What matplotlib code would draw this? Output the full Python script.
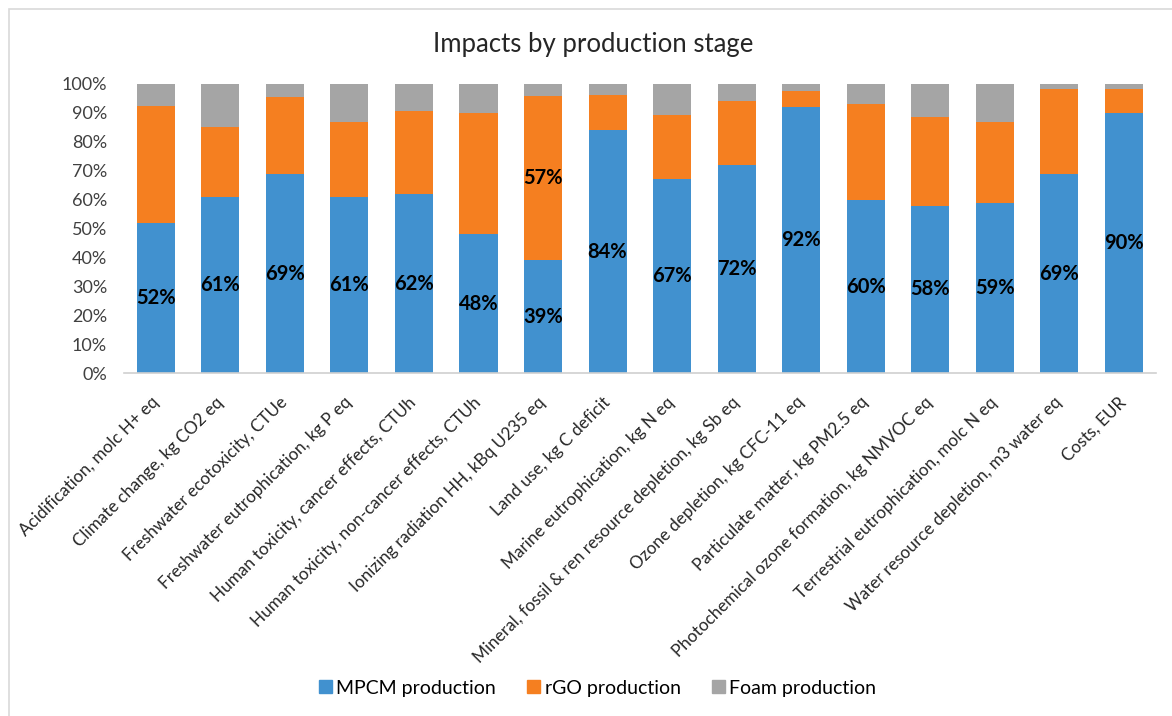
import matplotlib.pyplot as plt
import matplotlib.patches as mpatches
import numpy as np

plt.rcParams['font.family'] = ['Lato', 'DejaVu Sans']

# Impact categories (x axis)
categories = [
    'Acidification, molc H+ eq',
    'Climate change, kg CO2 eq',
    'Freshwater ecotoxicity, CTUe',
    'Freshwater eutrophication, kg P eq',
    'Human toxicity, cancer effects, CTUh',
    'Human toxicity, non-cancer effects, CTUh',
    'Ionizing radiation HH, kBq U235 eq',
    'Land use, kg C deficit',
    'Marine eutrophication, kg N eq',
    'Mineral, fossil & ren resource depletion, kg Sb eq',
    'Ozone depletion, kg CFC-11 eq',
    'Particulate matter, kg PM2.5 eq',
    'Photochemical ozone formation, kg NMVOC eq',
    'Terrestrial eutrophication, molc N eq',
    'Water resource depletion, m3 water eq',
    'Costs, EUR',
]

# Share of each production stage (%)
mpcm = [52, 61, 69, 61, 62, 48, 39, 84, 67, 72, 92, 60, 58, 59, 69, 90]
rgo = [40.5, 24.0, 26.5, 25.9, 28.6, 42.1, 57, 12.3, 22.3, 22.2, 5.6, 33.2, 30.6, 28.0, 29.2, 8.3]
foam = [100 - a - b for a, b in zip(mpcm, rgo)]

series_names = ['MPCM production', 'rGO production', 'Foam production']
colors = ['#4191CF', '#F57F20', '#A5A5A5']

fig = plt.figure(figsize=(11.72, 7.16), dpi=100)
ax = fig.add_axes([0.1055, 0.4786, 0.8808, 0.4041])

x = np.arange(len(categories))
w = 0.59
mp = np.array(mpcm) / 100
rg = np.array(rgo) / 100
fo = np.array(foam) / 100

ax.bar(x, mp, w, color=colors[0], zorder=2)
ax.bar(x, rg, w, bottom=mp, color=colors[1], zorder=2)
ax.bar(x, fo, w, bottom=mp + rg, color=colors[2], zorder=2)

# Data labels: MPCM share on every bar, rGO share where it dominates
for i in range(len(categories)):
    ax.text(x[i], mp[i] / 2, f'{mpcm[i]:.0f}%', ha='center', va='center',
            fontsize=14.5, fontweight='bold', color='black', zorder=3)
    if rgo[i] > 50:
        ax.text(x[i], mp[i] + rg[i] / 2, f'{rgo[i]:.0f}%', ha='center', va='center',
                fontsize=14.5, fontweight='bold', color='black', zorder=3)

ax.set_xlim(-0.5, len(categories) - 0.5)
ax.set_ylim(0, 1)
yt = np.arange(0, 1.01, 0.1)
ax.set_yticks(yt)
ax.set_yticklabels([f'{int(round(v * 100))}%' for v in yt], fontsize=13, color='#404040')
ax.set_xticks(x)
ax.set_xticklabels(categories, rotation=45, ha='right', va='center', rotation_mode='anchor',
                   fontsize=12.3, color='#262626')
ax.tick_params(axis='y', length=0, pad=12)
ax.tick_params(axis='x', length=0, pad=19)

for s in ['top', 'right', 'left']:
    ax.spines[s].set_visible(False)
ax.spines['bottom'].set_color('#D0D0D0')
ax.spines['bottom'].set_linewidth(1.2)

fig.text(0.506, 0.9385, 'Impacts by production stage', ha='center', va='center', fontsize=18.5, color='#262626')

handles = [mpatches.Patch(color=c, label=n) for c, n in zip(colors, series_names)]
fig.legend(handles=handles, loc='center', bbox_to_anchor=(0.51, 0.039), ncol=3, frameon=False,
           fontsize=14, handlelength=0.65, handleheight=0.65, columnspacing=1.6, handletextpad=0.25)

# Chart area border
fig.add_artist(mpatches.Rectangle((9 / 1172, -0.01), 1.02, 1 - 9 / 716 + 0.01, transform=fig.transFigure,
                                  fill=False, edgecolor='#D9D9D9', linewidth=1.2))

fig.savefig('out.png', dpi=100)
